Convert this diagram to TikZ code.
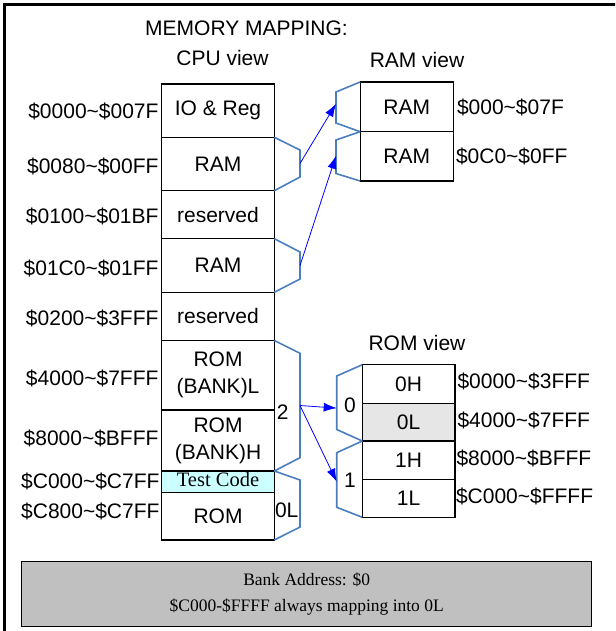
\documentclass[tikz,border=0pt]{standalone}
\usepackage{fontspec}
\setmainfont{Liberation Sans}
\newfontfamily\timesfont{Liberation Serif}
\usetikzlibrary{arrows.meta}
\definecolor{bracecol}{RGB}{74,126,190}
\definecolor{testfill}{RGB}{204,255,255}
\definecolor{lowfill}{RGB}{230,230,230}
\definecolor{notefill}{RGB}{192,192,192}

\begin{document}
\begin{tikzpicture}[x=1pt,y=-1pt,
  every node/.style={inner sep=0pt, outer sep=0pt, font=\fontsize{21}{27}\selectfont},
  cell/.style={draw=black, line width=1.1pt, align=center},
  cpucell/.style={cell, minimum width=112.6pt},
  ramcell/.style={cell, minimum width=93.3pt},
  romcell/.style={cell, minimum width=92.7pt},
  brace/.style={draw=bracecol, line width=1.6pt, line join=miter},
  link/.style={draw=blue, line width=0.8pt, -{Latex[length=13pt,width=9pt]}},
  serif/.style={font=\timesfont\fontsize{20.5}{24}\selectfont}
]
\useasboundingbox (0,0) rectangle (615,631);
\clip (0,0) rectangle (615,631);

% outer frame (runs past the right and bottom page edges)
\draw[line width=2.5pt] (4.7,700) -- (4.7,4.5) -- (700,4.5);

% titles
\node (ttl) at (246.5,28) {MEMORY MAPPING:};
\node (cputtl) at (222.5,58) {CPU view};
\node (ramttl) at (417,60) {RAM view};
\node (romttl) at (417,343) {ROM view};

% CPU view column
\node[cpucell, minimum height=53.3pt] (io)   at (218,110.7) {IO \& Reg};
\node[cpucell, minimum height=53.4pt] (cram1) at (218,164) {RAM};
\node[cpucell, minimum height=48pt]   (res1) at (218,214.7) {reserved};
\node[cpucell, minimum height=53.6pt] (cram2) at (218,265.5) {RAM};
\node[cpucell, minimum height=48.2pt] (res2) at (218,316.4) {reserved};
\node[cpucell, minimum height=69.5pt] (bankl) at (218,375.25) {ROM\\(BANK)L};
\node[cpucell, minimum height=61pt]   (bankh) at (218,440.5) {ROM\\(BANK)H};
\node[cpucell, fill=testfill, minimum height=21.3pt, text height=14pt, text depth=4pt,
      serif] (test) at (218,481.65) {Test Code};
\node[cpucell, minimum height=47.7pt] (crom) at (218,516.15) {ROM};

% CPU addresses
\node[anchor=east] (a1) at (158.5,111.7) {\$0000\textasciitilde\$007F};
\node[anchor=east] (a2) at (158.5,166)   {\$0080\textasciitilde\$00FF};
\node[anchor=east] (a3) at (158.5,216.7) {\$0100\textasciitilde\$01BF};
\node[anchor=east] (a4) at (158.5,268.3) {\$01C0\textasciitilde\$01FF};
\node[anchor=east] (a5) at (158.5,318.3) {\$0200\textasciitilde\$3FFF};
\node[anchor=east] (a6) at (158.5,378.3) {\$4000\textasciitilde\$7FFF};
\node[anchor=east] (a7) at (158.5,438.3) {\$8000\textasciitilde\$BFFF};
\node[anchor=east] (a8) at (159.5,481.7) {\$C000\textasciitilde\$C7FF};
\node[anchor=east] (a9) at (159.5,511.7) {\$C800\textasciitilde\$C7FF};

% RAM view column
\node[ramcell, minimum height=49.7pt] (rama) at (406.7,106.85) {RAM};
\node[ramcell, minimum height=49.3pt] (ramb) at (406.7,156.35) {RAM};
\node[anchor=west] (ra1) at (457,107.3) {\$000\textasciitilde\$07F};
\node[anchor=west] (ra2) at (456,156.7) {\$0C0\textasciitilde\$0FF};

% ROM view column
\node[romcell, minimum height=38.6pt] (r0h) at (408.65,384) {0H};
\node[romcell, fill=lowfill, minimum height=37.7pt] (r0l) at (408.65,422.15) {0L};
\node[romcell, minimum height=38.3pt] (r1h) at (408.65,460.15) {1H};
\node[romcell, minimum height=38pt]   (r1l) at (408.65,498.3) {1L};
\node[anchor=west] (ro1) at (457.5,381.7) {\$0000\textasciitilde\$3FFF};
\node[anchor=west] (ro2) at (457.5,420)   {\$4000\textasciitilde\$7FFF};
\node[anchor=west] (ro3) at (456.5,458.3) {\$8000\textasciitilde\$BFFF};
\node[anchor=west] (ro4) at (456,496.7)   {\$C000\textasciitilde\$FFFF};

% braces on the CPU side
\draw[brace] (cram1.north east) -- (300,150) -- coordinate[pos=0.5] (s1) (300,177) -- (cram1.south east);
\draw[brace] (cram2.north east) -- (300,252) -- coordinate[pos=0.5] (s2) (300,279) -- (cram2.south east);
\draw[brace] (bankl.north east) -- (300,353.3) -- coordinate[pos=0.5] (s3) (300,457.7) -- (bankh.south east);
\draw[brace] (test.north east) -- (300,480) -- (300,527) -- (crom.south east);

% braces on the RAM side
\draw[brace] (rama.north west) -- (336,92) -- coordinate[pos=0.38] (t1) (336,123) -- (rama.south west);
\draw[brace] (ramb.north west) -- (336,140) -- coordinate[pos=0.47] (t2) (336,173.5) -- (ramb.south west);

% braces on the ROM side
\draw[brace] (r0h.north west) -- (336.7,376) -- coordinate[pos=0.6] (t3) (336.7,429.5) -- (r0l.south west);
\draw[brace] (r1h.north west) -- (336.7,452.7) -- coordinate[pos=0.53] (t4) (336.7,507.3) -- (r1l.south west);

% brace labels
\node (b2) at (282.7,411.7) {2};
\node (b0l) at (286.7,510) {0L};
\node (b0) at (350,405) {0};
\node (b1) at (350,480) {1};

% mapping arrows
\draw[link] (s1) -- (t1);
\draw[link] (s2) -- (t2);
\draw[link] (s3) -- (t3);
\draw[link] (s3) -- (t4);

% note box
\node[draw=black, line width=1pt, fill=notefill, minimum width=570pt, minimum height=65pt]
  (note) at (306.7,594.2) {};
\node[serif, font=\timesfont\fontsize{17.5}{26.6}\selectfont, align=center] (notetext)
  at (note.center) {Bank Address: \$0\\\$C000-\$FFFF always mapping into 0L};
\end{tikzpicture}
\end{document}
